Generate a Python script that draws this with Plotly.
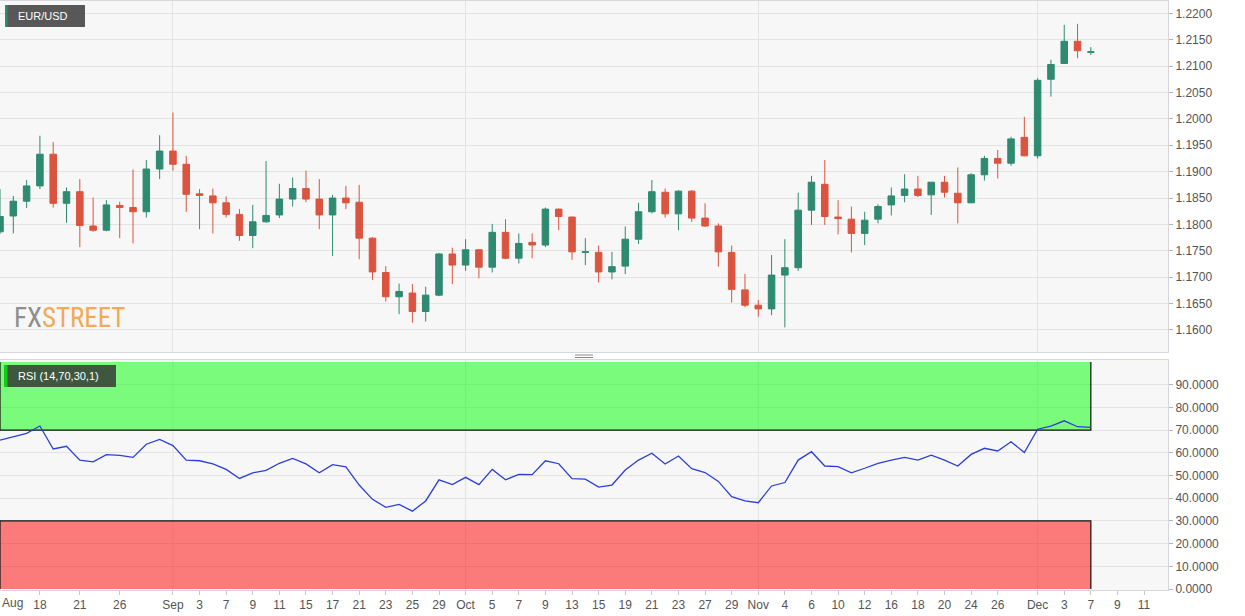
import numpy as np
import pandas as pd
import plotly.graph_objects as go

# ---------------- data ----------------
dates = pd.bdate_range("2020-08-13", "2020-12-07")  # trading days shown

open_ = [1.1786, 1.1816, 1.1844, 1.1873, 1.1933, 1.1840, 1.1862, 1.1797, 1.1789, 1.1836,
         1.1832, 1.1824, 1.1905, 1.1939, 1.1914, 1.1858, 1.1854, 1.1841, 1.1819, 1.1779,
         1.1805, 1.1818, 1.1848, 1.1868, 1.1848, 1.1818, 1.1850, 1.1842, 1.1774, 1.1709,
         1.1663, 1.1670, 1.1635, 1.1666, 1.1744, 1.1723, 1.1752, 1.1719, 1.1785, 1.1736,
         1.1766, 1.1761, 1.1829, 1.1814, 1.1747, 1.1747, 1.1710, 1.1721, 1.1772, 1.1824,
         1.1861, 1.1820, 1.1863, 1.1812, 1.1797, 1.1747, 1.1676, 1.1647, 1.1640, 1.1704,
         1.1718, 1.1827, 1.1876, 1.1814, 1.1810, 1.1783, 1.1810, 1.1837, 1.1855, 1.1867,
         1.1856, 1.1880, 1.1859, 1.1841, 1.1894, 1.1925, 1.1916, 1.1965, 1.1930, 1.2075,
         1.2105, 1.2147, 1.2126]
high = [1.1867, 1.1854, 1.1884, 1.1968, 1.1956, 1.1870, 1.1886, 1.1851, 1.1846, 1.1843,
        1.1904, 1.1922, 1.1969, 1.2012, 1.1930, 1.1867, 1.1868, 1.1853, 1.1829, 1.1837,
        1.1920, 1.1877, 1.1889, 1.1902, 1.1886, 1.1856, 1.1873, 1.1875, 1.1776, 1.1721,
        1.1688, 1.1687, 1.1682, 1.1746, 1.1756, 1.1772, 1.1753, 1.1801, 1.1810, 1.1783,
        1.1783, 1.1832, 1.1830, 1.1815, 1.1774, 1.1760, 1.1748, 1.1796, 1.1841, 1.1884,
        1.1868, 1.1865, 1.1865, 1.1840, 1.1802, 1.1760, 1.1706, 1.1657, 1.1742, 1.1772,
        1.1860, 1.1892, 1.1922, 1.1846, 1.1834, 1.1824, 1.1838, 1.1870, 1.1895, 1.1892,
        1.1880, 1.1892, 1.1908, 1.1897, 1.1930, 1.1941, 1.1966, 1.2004, 1.2077, 1.2112,
        1.2178, 1.2180, 1.2136]
low = [1.1782, 1.1783, 1.1831, 1.1867, 1.1832, 1.1803, 1.1757, 1.1786, 1.1787, 1.1774,
       1.1764, 1.1813, 1.1886, 1.1902, 1.1824, 1.1791, 1.1783, 1.1813, 1.1769, 1.1755,
       1.1803, 1.1812, 1.1834, 1.1842, 1.1791, 1.1740, 1.1829, 1.1734, 1.1695, 1.1654,
       1.1630, 1.1614, 1.1616, 1.1664, 1.1687, 1.1712, 1.1698, 1.1709, 1.1734, 1.1726,
       1.1736, 1.1757, 1.1789, 1.1733, 1.1723, 1.1690, 1.1696, 1.1706, 1.1763, 1.1821,
       1.1813, 1.1789, 1.1805, 1.1795, 1.1720, 1.1652, 1.1643, 1.1625, 1.1628, 1.1605,
       1.1712, 1.1799, 1.1799, 1.1781, 1.1747, 1.1761, 1.1802, 1.1817, 1.1842, 1.1852,
       1.1818, 1.1851, 1.1802, 1.1840, 1.1883, 1.1887, 1.1911, 1.1929, 1.1925, 1.2042,
       1.2104, 1.2115, 1.2121]
close = [1.1815, 1.1844, 1.1873, 1.1933, 1.1840, 1.1862, 1.1798, 1.1789, 1.1837, 1.1832,
         1.1824, 1.1905, 1.1939, 1.1914, 1.1857, 1.1855, 1.1841, 1.1819, 1.1779, 1.1805,
         1.1817, 1.1848, 1.1868, 1.1848, 1.1818, 1.1850, 1.1841, 1.1774, 1.1710, 1.1663,
         1.1673, 1.1635, 1.1666, 1.1744, 1.1723, 1.1752, 1.1719, 1.1785, 1.1736, 1.1764,
         1.1761, 1.1829, 1.1815, 1.1748, 1.1748, 1.1710, 1.1720, 1.1772, 1.1824, 1.1862,
         1.1820, 1.1863, 1.1812, 1.1797, 1.1748, 1.1677, 1.1647, 1.1640, 1.1704, 1.1718,
         1.1827, 1.1880, 1.1815, 1.1811, 1.1783, 1.1808, 1.1834, 1.1854, 1.1867, 1.1855,
         1.1880, 1.1861, 1.1841, 1.1894, 1.1925, 1.1916, 1.1962, 1.1930, 1.2073, 1.2103,
         1.2147, 1.2129, 1.2127]
rsi = [65.6, 67.1, 68.6, 71.8, 61.7, 62.9, 56.8, 56.0, 59.2, 58.9,
       58.0, 63.8, 65.9, 63.2, 56.8, 56.5, 55.1, 52.7, 48.7, 51.2,
       52.3, 55.4, 57.5, 55.1, 51.2, 54.8, 53.8, 45.8, 39.5, 36.0,
       37.3, 34.3, 38.8, 48.1, 46.0, 49.2, 46.0, 52.7, 48.1, 50.5,
       50.4, 56.5, 55.2, 48.6, 48.4, 44.9, 45.8, 52.4, 56.8, 59.8,
       55.1, 58.6, 53.0, 51.3, 47.4, 40.7, 38.8, 38.0, 45.4, 46.9,
       56.8, 60.5, 54.2, 53.9, 51.2, 53.2, 55.4, 56.8, 58.0, 56.8,
       59.0, 56.8, 54.2, 59.3, 62.0, 60.8, 64.9, 60.1, 70.4, 71.8,
       74.1, 71.5, 71.2]

tick_dates = ["2020-08-18", "2020-08-21", "2020-08-26", "2020-09-01", "2020-09-03",
              "2020-09-07", "2020-09-09", "2020-09-11", "2020-09-15", "2020-09-17",
              "2020-09-21", "2020-09-23", "2020-09-25", "2020-09-29", "2020-10-01",
              "2020-10-05", "2020-10-07", "2020-10-09", "2020-10-13", "2020-10-15",
              "2020-10-19", "2020-10-21", "2020-10-23", "2020-10-27", "2020-10-29",
              "2020-11-02", "2020-11-04", "2020-11-06", "2020-11-10", "2020-11-12",
              "2020-11-16", "2020-11-18", "2020-11-20", "2020-11-24", "2020-11-26",
              "2020-12-01", "2020-12-03", "2020-12-07", "2020-12-09", "2020-12-11"]
tick_text = ["18", "21", "26", "Sep", "3", "7", "9", "11", "15", "17",
             "21", "23", "25", "29", "Oct", "5", "7", "9", "13", "15",
             "19", "21", "23", "27", "29", "Nov", "4", "6", "10", "12",
             "16", "18", "20", "24", "26", "Dec", "3", "7", "9", "11"]
month_dates = ["2020-09-01", "2020-10-01", "2020-11-02", "2020-12-01"]
price_ticks = [1.1600, 1.1650, 1.1700, 1.1750, 1.1800, 1.1850, 1.1900,
               1.1950, 1.2000, 1.2050, 1.2100, 1.2150, 1.2200]
rsi_ticks = [0, 10, 20, 30, 40, 50, 60, 70, 80, 90]
rsi_upper, rsi_lower = 70, 30

# ---------------- positions on a trading-day axis ----------------
start = dates[0].strftime("%Y-%m-%d")
xi = np.arange(len(dates))
tick_x = [int(np.busday_count(start, d)) for d in tick_dates]
month_x = [int(np.busday_count(start, d)) for d in month_dates]
last_x = int(xi[-1])

GREEN = "#2e8a70"
RED = "#da543f"
FONT = "Liberation Sans, Arial, sans-serif"
LBL = "#555555"
GRID = "#e3e3e3"
BORDER = "#d6d6dc"

W, H = 1245, 616
ML, MR, MT, MB = 0, 77, 1, 26
PW, PH = W - ML - MR, H - MT - MB


def px(x):
    return (x - ML) / PW


def py(y):
    return (H - MB - y) / PH


fig = go.Figure()
fig.add_trace(go.Candlestick(
    x=xi, open=open_, high=high, low=low, close=close,
    increasing=dict(line=dict(color=GREEN, width=1), fillcolor=GREEN),
    decreasing=dict(line=dict(color=RED, width=1), fillcolor=RED),
    whiskerwidth=0, xaxis="x", yaxis="y", showlegend=False, hoverinfo="skip"))
fig.add_trace(go.Scatter(
    x=xi, y=rsi, mode="lines", line=dict(color="#2b3fd8", width=1.3),
    xaxis="x2", yaxis="y2", showlegend=False, hoverinfo="skip"))

xrange = [0, 87.8]
main_top, main_bot = py(1), py(352)
rsi_top, rsi_bot = py(360), py(590)

fig.update_layout(
    width=W, height=H,
    margin=dict(l=ML, r=MR, t=MT, b=MB),
    paper_bgcolor="white", plot_bgcolor="#f7f7f7",
    font=dict(family=FONT, size=12, color=LBL),
    xaxis=dict(domain=[0, 1], anchor="y", range=xrange, rangeslider=dict(visible=False),
               tickvals=month_x, showticklabels=False, ticks="", showgrid=True,
               gridcolor=GRID, gridwidth=1, zeroline=False,
               showline=True, linecolor=BORDER, mirror=True),
    yaxis=dict(domain=[main_bot, main_top], anchor="x", side="right",
               range=[1.15583, 1.22233], tickvals=price_ticks, tickformat=".4f",
               ticks="outside", ticklen=4, tickcolor="#b5b5b5", showgrid=True,
               gridcolor=GRID, zeroline=False, showline=True, linecolor=BORDER,
               mirror=True, tickfont=dict(size=12, color=LBL)),
    xaxis2=dict(domain=[0, 1], anchor="y2", range=xrange, tickvals=tick_x,
                ticktext=tick_text, ticks="outside", ticklen=4, tickcolor="#c8c8c8",
                showgrid=False, zeroline=False, showline=True, linecolor=BORDER,
                mirror=True, tickfont=dict(size=12, color=LBL)),
    yaxis2=dict(domain=[rsi_bot, rsi_top], anchor="x2", side="right",
                range=[-0.44, 100.9], tickvals=rsi_ticks, tickformat=".4f",
                ticks="outside", ticklen=4, tickcolor="#b5b5b5", showgrid=True,
                gridcolor=GRID, zeroline=False, showline=True, linecolor=BORDER,
                mirror=True, tickfont=dict(size=12, color=LBL)),
)

shapes = []
# month gridlines in the RSI panel
for m in month_x:
    shapes.append(dict(type="line", xref="x2", yref="y2 domain", x0=m, x1=m, y0=0, y1=1,
                       line=dict(color=GRID, width=1), layer="below"))
# overbought / oversold zones
shapes.append(dict(type="rect", xref="x2", yref="y2", x0=0, x1=last_x, y0=rsi_upper, y1=100,
                   fillcolor="rgba(0,255,0,0.5)", line=dict(width=0), layer="between"))
shapes.append(dict(type="rect", xref="x2", yref="y2", x0=0, x1=last_x, y0=0, y1=rsi_lower,
                   fillcolor="rgba(255,0,0,0.5)", line=dict(width=0), layer="between"))
shapes.append(dict(type="path", xref="x2", yref="y2",
                   path=f"M 0,100 L 0,{rsi_upper} L {last_x},{rsi_upper} L {last_x},100",
                   line=dict(color="#111111", width=1.2), layer="between"))
shapes.append(dict(type="path", xref="x2", yref="y2",
                   path=f"M 0,0 L 0,{rsi_lower} L {last_x},{rsi_lower} L {last_x},0",
                   line=dict(color="#111111", width=1.2), layer="between"))
# panel separator handle
for yy in (355, 357.5):
    shapes.append(dict(type="line", xref="paper", yref="paper", x0=px(575), x1=px(593),
                       y0=py(yy), y1=py(yy), line=dict(color="#8a8a8a", width=1)))
# label boxes
shapes.append(dict(type="rect", xref="paper", yref="paper", x0=px(5), x1=px(85),
                   y0=py(27), y1=py(5), fillcolor="rgba(60,60,60,0.85)", line=dict(width=0)))
shapes.append(dict(type="rect", xref="paper", yref="paper", x0=px(5), x1=px(7.5),
                   y0=py(27), y1=py(5), fillcolor=GREEN, line=dict(width=0)))
shapes.append(dict(type="rect", xref="paper", yref="paper", x0=px(4), x1=px(116),
                   y0=py(387), y1=py(365), fillcolor="rgba(50,50,50,0.82)", line=dict(width=0)))
shapes.append(dict(type="rect", xref="paper", yref="paper", x0=px(4), x1=px(7.5),
                   y0=py(387), y1=py(365), fillcolor="#18c818", line=dict(width=0)))
fig.update_layout(shapes=shapes)

annotations = [
    dict(text="EUR/USD", xref="paper", yref="paper", x=px(16), y=py(16), xanchor="left",
         yanchor="middle", showarrow=False, font=dict(size=11, color="white", family=FONT)),
    dict(text="RSI (14,70,30,1)", xref="paper", yref="paper", x=px(16), y=py(376),
         xanchor="left", yanchor="middle", showarrow=False,
         font=dict(size=11, color="white", family=FONT)),
    dict(text="Aug", xref="paper", yref="paper", x=px(0), y=py(603), xanchor="left",
         yanchor="middle", showarrow=False, font=dict(size=12, color=LBL, family=FONT)),
    dict(text="<span style='color:#8e8e8e'>FX</span><span style='color:#f0aa58'>STREET</span>",
         xref="paper", yref="paper", x=px(12), y=py(318), xanchor="left", yanchor="middle",
         showarrow=False,
         font=dict(size=27, family="Liberation Sans Narrow, Roboto Condensed, DejaVu Sans Condensed, sans-serif")),
]
fig.update_layout(annotations=annotations)

fig.write_html("out.html", config={"displayModeBar": False},
               post_script="document.body.style.margin='0';document.body.style.overflow='hidden';")
